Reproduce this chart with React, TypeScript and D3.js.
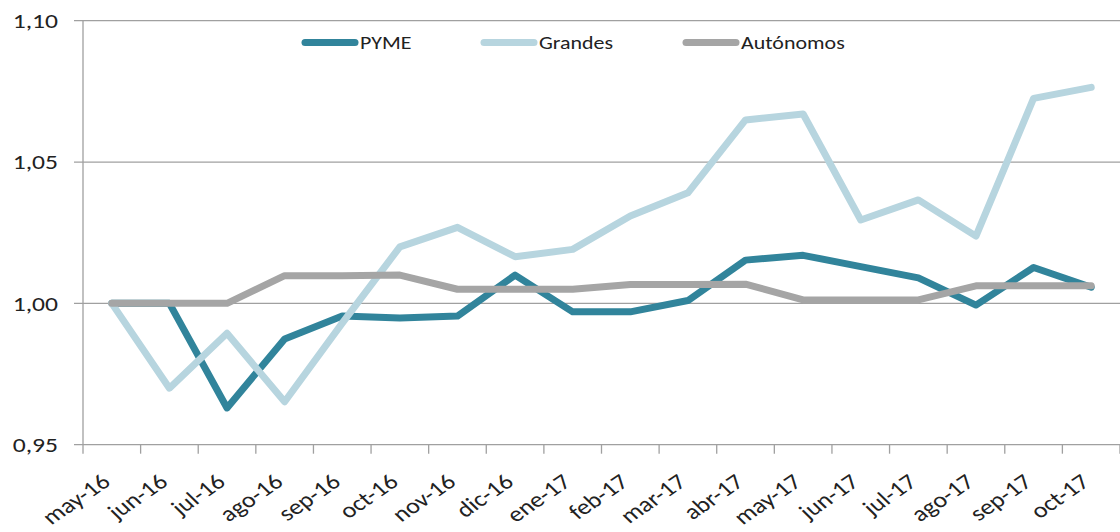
import React from "react";
import * as d3 from "d3";

const categories = ["may-16","jun-16","jul-16","ago-16","sep-16","oct-16","nov-16","dic-16","ene-17","feb-17","mar-17","abr-17","may-17","jun-17","jul-17","ago-17","sep-17","oct-17"];
const pyme = [1.000,1.000,0.963,0.9874,0.9955,0.9948,0.9955,1.010,0.997,0.997,1.001,1.0153,1.017,1.013,1.009,0.9994,1.0127,1.0057];
const grandes = [1.000,0.970,0.9894,0.9652,0.993,1.020,1.0269,1.0165,1.0191,1.0309,1.0391,1.0649,1.067,1.0295,1.0366,1.0238,1.0725,1.0764];
const autonomos = [1.000,1.000,1.000,1.0098,1.0098,1.010,1.005,1.005,1.005,1.0067,1.0067,1.0068,1.0012,1.0012,1.0012,1.0062,1.0062,1.0062];
const yTicks = [0.95,1.0,1.05,1.10];
const seriesNames = ["PYME","Grandes","Autónomos"];
const seriesColors = ["#31849b","#b7d5df","#a5a5a5"];

const W = 1120, H = 532;
const left = 83, right = 1120, top = 20.7, bottom = 444.7;
const FONT = "Carlito, Calibri, Lato, sans-serif";
const SX = 1.22;

export default function App() {
  const x = d3.scaleBand().domain(categories).range([left, right]).padding(0);
  const y = d3.scaleLinear().domain([0.95, 1.10]).range([bottom, top]);
  const line = d3.line<number>().x((_, i) => (x(categories[i]) as number) + x.bandwidth() / 2).y(d => y(d));
  const data = [pyme, grandes, autonomos];
  const legendX = [302, 481, 683];
  const fmt = (v: number) => v.toFixed(2).replace(".", ",");
  return (
    <svg width={W} height={H} style={{ position: "absolute", left: 0, top: 0, background: "#fff" }} fontFamily={FONT}>
      {yTicks.map(t => (
        <g key={t}>
          <line x1={74} x2={right} y1={y(t)} y2={y(t)} stroke="#a0a0a0" strokeWidth={1.3} />
          <g transform={`translate(58 ${y(t)}) scale(${SX} 1)`}>
            <text x={0} y={0} dy="0.35em" textAnchor="end" fontSize={21} fill="#222">{fmt(t)}</text>
          </g>
        </g>
      ))}
      <line x1={left} x2={left} y1={top} y2={bottom + 9} stroke="#a0a0a0" strokeWidth={1.3} />
      {categories.map(c => (
        <line key={"t" + c} x1={(x(c) as number) + x.bandwidth()} x2={(x(c) as number) + x.bandwidth()} y1={bottom} y2={bottom + 9} stroke="#a0a0a0" strokeWidth={1.3} />
      ))}
      {categories.map(c => {
        const cx = (x(c) as number) + x.bandwidth() / 2;
        const cy = 484;
        return (
          <g key={c} transform={`translate(${cx} ${cy}) scale(${SX} 1) rotate(-40)`}>
            <text x={0} y={0} textAnchor="end" fontSize={21.5} fill="#222">{c}</text>
          </g>
        );
      })}
      {data.map((d, k) => (
        <path key={seriesNames[k]} d={line(d) || ""} fill="none" stroke={seriesColors[k]} strokeWidth={7} strokeLinejoin="round" strokeLinecap="round" />
      ))}
      {seriesNames.map((n, k) => (
        <g key={"lg" + n}>
          <line x1={legendX[k] + 3} x2={legendX[k] + 53} y1={42.5} y2={42.5} stroke={seriesColors[k]} strokeWidth={7} strokeLinecap="round" />
          <g transform={`translate(${legendX[k] + 58} 42.5) scale(${SX} 1)`}>
            <text x={0} y={0} dy="0.35em" fontSize={18} fill="#222">{n}</text>
          </g>
        </g>
      ))}
    </svg>
  );
}
